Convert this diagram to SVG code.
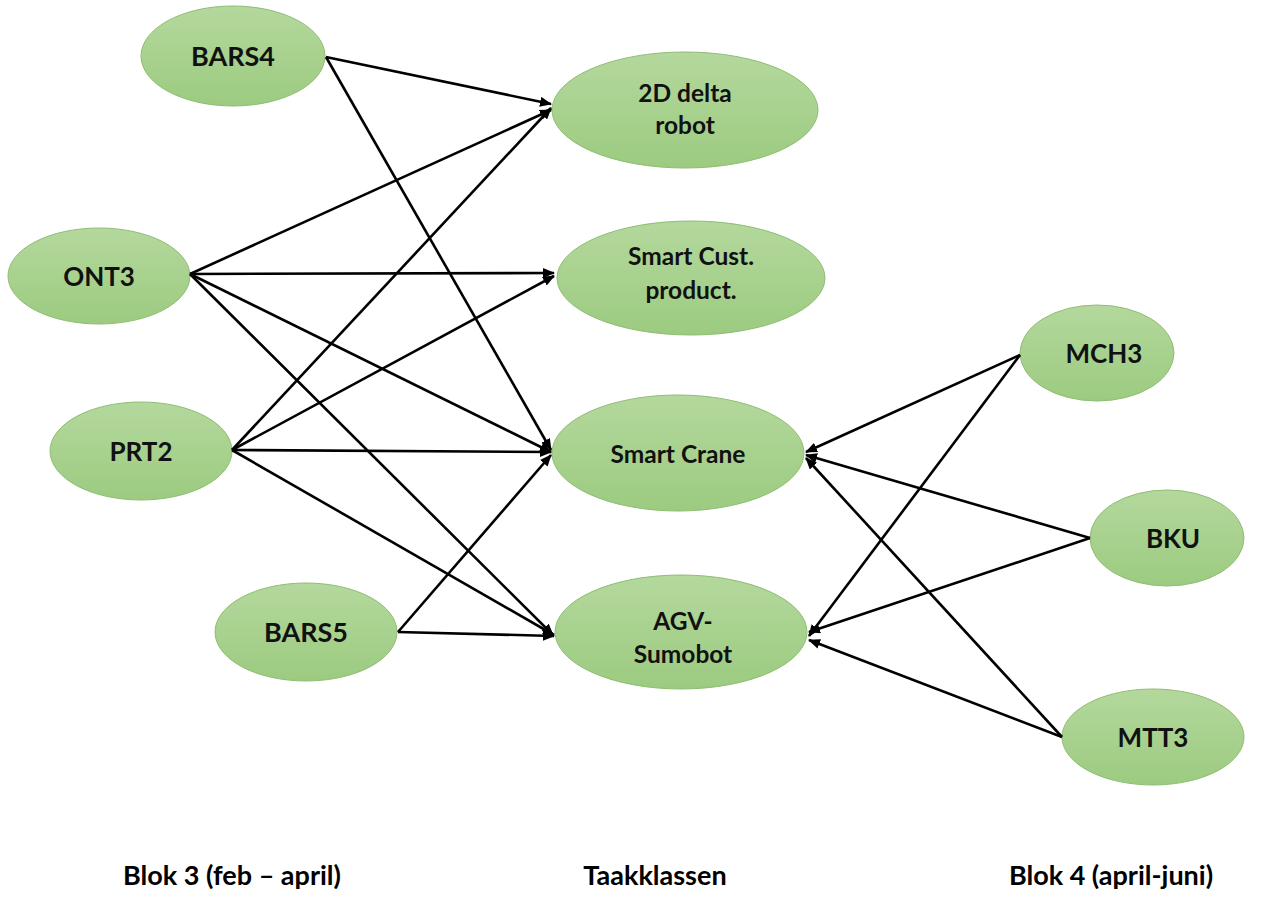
<svg xmlns="http://www.w3.org/2000/svg" width="1280" height="899" viewBox="0 0 1280 899">
<defs>
<linearGradient id="g" x1="0" y1="0" x2="0" y2="1">
<stop offset="0" stop-color="#b4d89d"/>
<stop offset="1" stop-color="#9ccb80"/>
</linearGradient>
<marker id="ah" markerWidth="12" markerHeight="10" refX="11" refY="5" orient="auto" markerUnits="userSpaceOnUse">
<path d="M0,0 L12,5 L0,10 z" fill="#000"/>
</marker>
</defs>
<style>
.n ellipse{fill:url(#g);stroke:#8fbd72;stroke-width:1}
.n text{font-family:Lato,"Open Sans",sans-serif;font-weight:bold;fill:#111;text-anchor:middle}
.c line{stroke:#000;stroke-width:2.6;marker-end:url(#ah)}
.lbl{font-family:Lato,"Open Sans",sans-serif;font-weight:bold;font-size:27px;fill:#000;text-anchor:middle}
</style>
<rect width="1280" height="899" fill="#fff"/>
<g id="BARS4" class="n"><ellipse cx="233" cy="56" rx="92" ry="50"/><text x="233" y="66" font-size="27">BARS4</text></g>
<g id="ONT3" class="n"><ellipse cx="99" cy="276" rx="91" ry="48"/><text x="99" y="286" font-size="26">ONT3</text></g>
<g id="PRT2" class="n"><ellipse cx="141" cy="451" rx="91" ry="49"/><text x="141" y="461" font-size="26">PRT2</text></g>
<g id="BARS5" class="n"><ellipse cx="306" cy="632" rx="91" ry="49"/><text x="306" y="642" font-size="27">BARS5</text></g>
<g id="delta" class="n"><ellipse cx="685" cy="110" rx="133" ry="58"/><text x="685" y="102" font-size="24.5">2D delta</text><text x="685" y="134" font-size="24.5">robot</text></g>
<g id="cust" class="n"><ellipse cx="691" cy="278" rx="134" ry="57"/><text x="691" y="265" font-size="24.5">Smart Cust.</text><text x="691" y="299" font-size="24.5">product.</text></g>
<g id="crane" class="n"><ellipse cx="678" cy="453" rx="126" ry="58"/><text x="678" y="463" font-size="24.5">Smart Crane</text></g>
<g id="agv" class="n"><ellipse cx="681" cy="632" rx="126" ry="57"/><text x="683" y="630" font-size="24.5">AGV-</text><text x="683" y="663" font-size="24.5">Sumobot</text></g>
<g id="MCH3" class="n"><ellipse cx="1097" cy="353" rx="77" ry="48"/><text x="1104" y="363" font-size="26">MCH3</text></g>
<g id="BKU" class="n"><ellipse cx="1167" cy="538" rx="77" ry="48"/><text x="1173" y="548" font-size="26">BKU</text></g>
<g id="MTT3" class="n"><ellipse cx="1153" cy="737" rx="91" ry="48"/><text x="1153" y="747" font-size="26">MTT3</text></g>
<g id="connectors" class="c">
<line x1="326" y1="57" x2="551" y2="104"/>
<line x1="326" y1="57" x2="551" y2="450"/>
<line x1="190" y1="274" x2="551" y2="110"/>
<line x1="190" y1="274" x2="554" y2="273"/>
<line x1="190" y1="274" x2="551" y2="452"/>
<line x1="190" y1="274" x2="553" y2="635"/>
<line x1="232" y1="450" x2="551" y2="108"/>
<line x1="232" y1="450" x2="554" y2="276"/>
<line x1="232" y1="450" x2="551" y2="452"/>
<line x1="232" y1="450" x2="554" y2="635"/>
<line x1="398" y1="632" x2="551" y2="455"/>
<line x1="398" y1="632" x2="554" y2="636"/>
<line x1="1020" y1="355" x2="806" y2="452"/>
<line x1="1020" y1="355" x2="809" y2="636"/>
<line x1="1090" y1="538" x2="806" y2="455"/>
<line x1="1090" y1="538" x2="809" y2="632"/>
<line x1="1062" y1="737" x2="806" y2="458"/>
<line x1="1062" y1="737" x2="809" y2="640"/>
</g>
<text class="lbl" x="232" y="885">Blok 3 (feb – april)</text>
<text class="lbl" x="655" y="885">Taakklassen</text>
<text class="lbl" x="1111" y="885">Blok 4 (april-juni)</text>
</svg>
